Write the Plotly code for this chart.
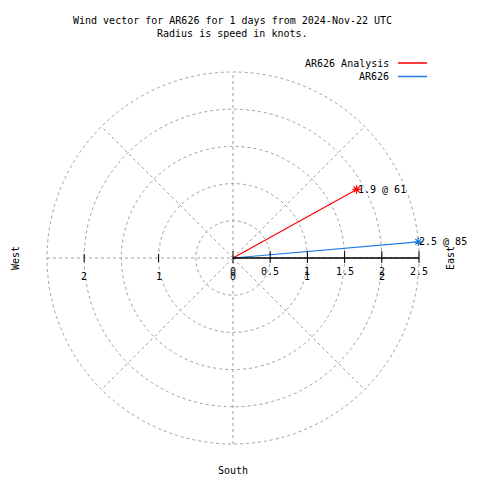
import numpy as np
import plotly.graph_objects as go

# ---- data ----
series_names = ["AR626 Analysis", "AR626"]
speeds = [1.9, 2.5]            # knots
directions = [61, 85]          # degrees, compass (clockwise from north)
colors = ["#ff0000", "#1c7ce6"]
point_labels = ["1.9 @ 61", "2.5 @ 85"]

ring_radii = [0.5, 1.0, 1.5, 2.0, 2.5]
spoke_angles = [45, 135, 225, 315]
r_ticks = [0, 0.5, 1, 1.5, 2, 2.5]
r_tick_labels = ["0", "0.5", "1", "1.5", "2", "2.5"]
x_ticks = [-2, -1, 0, 1, 2]
x_tick_labels = ["2", "1", "0", "1", "2"]
title_lines = ["Wind vector for AR626 for 1 days from 2024-Nov-22 UTC",
               "Radius is speed in knots."]
compass_labels = ["West", "East", "South"]

# ---- geometry ----
PX = 74.4           # pixels per knot
CX, CY = 233, 258   # centre pixel
L, T, W, H = 10, 10, 460, 460
xr = [(L - CX) / PX, (L + W - CX) / PX]
yr = [(CY - (T + H)) / PX, (CY - T) / PX]
RMAX = max(ring_radii)

def px2x(px):
    return (px - CX) / PX

def py2y(py):
    return (CY - py) / PX

FONT = dict(family="DejaVu Sans Mono", size=10, color="black")
GRID = dict(color="#a0a0a0", width=1, dash="3px,3px")

fig = go.Figure()
shapes = []
ann = []

# rings
for r in ring_radii:
    shapes.append(dict(type="circle", xref="x", yref="y", x0=-r, x1=r, y0=-r, y1=r,
                       line=GRID, layer="below"))
# axes lines through the centre (grid)
shapes.append(dict(type="line", xref="x", yref="y", x0=-RMAX, x1=RMAX, y0=0, y1=0, line=GRID, layer="below"))
shapes.append(dict(type="line", xref="x", yref="y", x0=0, x1=0, y0=-RMAX, y1=RMAX, line=GRID, layer="below"))
# diagonal spokes
for a in spoke_angles:
    th = np.deg2rad(a)
    shapes.append(dict(type="line", xref="x", yref="y", x0=0, y0=0,
                       x1=RMAX * np.sin(th), y1=RMAX * np.cos(th), line=GRID, layer="below"))

# radial axis (solid black)
shapes.append(dict(type="line", xref="x", yref="y", x0=0, x1=max(r_ticks), y0=0, y1=0,
                   line=dict(color="black", width=1.5)))
for r in r_ticks:
    shapes.append(dict(type="line", xref="x", yref="y", x0=r, x1=r,
                       y0=-5 / PX, y1=7 / PX, line=dict(color="black", width=1)))
for xt in x_ticks:
    if xt < 0:
        shapes.append(dict(type="line", xref="x", yref="y", x0=xt, x1=xt,
                           y0=-4 / PX, y1=4 / PX, line=dict(color="black", width=1)))

for r, lab in zip(r_ticks, r_tick_labels):
    ann.append(dict(x=r, y=0, xref="x", yref="y", text=lab, showarrow=False,
                    yshift=-13, font=FONT))
for xt, lab in zip(x_ticks, x_tick_labels):
    ann.append(dict(x=xt, y=0, xref="x", yref="y", text=lab, showarrow=False,
                    yshift=-18, font=FONT))

# vectors
for name, s, d, c, lab in zip(series_names, speeds, directions, colors, point_labels):
    th = np.deg2rad(d)
    xe, ye = s * np.sin(th), s * np.cos(th)
    fig.add_trace(go.Scatter(x=[0, xe], y=[0, ye], mode="lines", name=name,
                             line=dict(color=c, width=1.2), showlegend=False))
    fig.add_trace(go.Scatter(x=[xe], y=[ye], mode="markers", name=name,
                             marker=dict(symbol="asterisk-open", size=7, color=c,
                                         line=dict(color=c, width=1.2)),
                             showlegend=False))
    ann.append(dict(x=xe, y=ye, xref="x", yref="y", text=lab, showarrow=False,
                    xanchor="left", xshift=-1, font=FONT))

# title
for i, line in enumerate(title_lines):
    ann.append(dict(x=px2x(232), y=py2y(20 + 13 * i), xref="x", yref="y", text=line,
                    showarrow=False, font=FONT))

# legend (gnuplot style: text then line sample)
for i, (name, c) in enumerate(zip(series_names, colors)):
    yy = py2y(63 + 13.5 * i)
    ann.append(dict(x=px2x(391), y=yy, xref="x", yref="y", text=name, showarrow=False,
                    xanchor="right", font=FONT))
    shapes.append(dict(type="line", xref="x", yref="y", x0=px2x(398), x1=px2x(427),
                       y0=yy, y1=yy, line=dict(color=c, width=1.5)))

# compass labels
ann.append(dict(x=px2x(15), y=0, xref="x", yref="y", text=compass_labels[0], showarrow=False,
                textangle=-90, font=FONT))
ann.append(dict(x=px2x(450), y=0, xref="x", yref="y", text=compass_labels[1], showarrow=False,
                textangle=-90, font=FONT))
ann.append(dict(x=0, y=py2y(470), xref="x", yref="y", text=compass_labels[2], showarrow=False,
                font=FONT))

fig.update_layout(
    width=480, height=480,
    margin=dict(l=L, r=480 - L - W, t=T, b=480 - T - H, pad=0),
    paper_bgcolor="white", plot_bgcolor="white",
    xaxis=dict(range=xr, visible=False, showgrid=False, zeroline=False, fixedrange=True),
    yaxis=dict(range=yr, visible=False, showgrid=False, zeroline=False, fixedrange=True),
    shapes=shapes, annotations=ann, showlegend=False,
)
fig.write_html("out.html", config={"displayModeBar": False},
               post_script="document.body.style.margin='0';document.body.style.overflow='hidden';")
